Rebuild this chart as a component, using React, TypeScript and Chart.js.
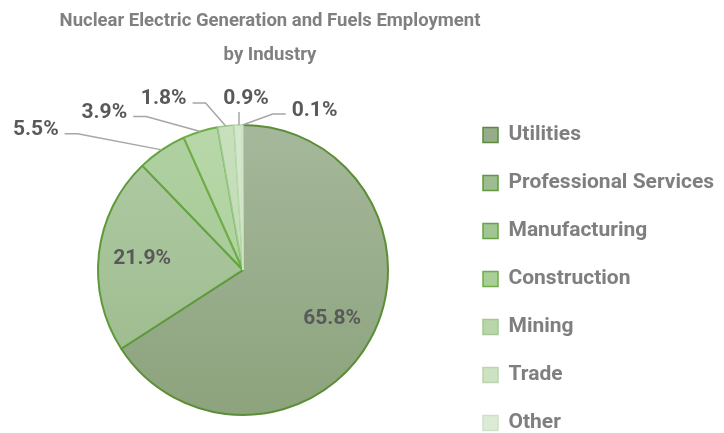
import React, { useEffect, useRef } from 'react';
import { Chart, registerables } from 'chart.js';

Chart.register(...registerables);

const titleLines = ['Nuclear Electric Generation and Fuels Employment', 'by Industry'];
const categories = ['Utilities', 'Professional Services', 'Manufacturing', 'Construction', 'Mining', 'Trade', 'Other'];
const shares = [65.8, 21.9, 5.5, 3.9, 1.8, 0.9, 0.1];

const sliceTop = ['#A5B89B', '#B0CBA4', '#B0D0A1', '#B7D7A8', '#C8E0BD', '#D5E7CD', '#E3EFDD'];
const sliceBottom = ['#8CA37D', '#9BB98C', '#A2C892', '#A9CF98', '#BCD9AF', '#CCE2C2', '#DAEAD3'];
const sliceBorder = ['#5B8E36', '#5E9A3A', '#64A540', '#6EAD47', '#9CC88B', '#B9D8AB', '#D0E5C7'];
const sliceBorderWidth = [2, 2, 2, 2, 1.5, 1.5, 1.5];
const legendFill = ['#97AC8B', '#9FBB92', '#A2C693', '#A9CE98', '#B9D6AB', '#CDE2C3', '#DDEAD6'];
const legendBorder = ['#5C8A3C', '#5E9A3A', '#64A540', '#6EAD47', '#A3C893', '#BAD6AC', '#CFE2C6'];

// label placement: inside = fraction of radius; otherwise offset of label centre from the arc's outer mid point
const labelPlacement: Array<{ inside?: number; dx?: number; dy?: number }> = [
  { inside: 0.7 },
  { inside: 0.7 },
  { dx: -126, dy: -20 },
  { dx: -96, dy: -19 },
  { dx: -62, dy: -27 },
  { dx: 8, dy: -26 },
  { dx: 72, dy: -14 },
];

const FONT = 'Roboto, "Noto Sans", sans-serif';

const titleShift = {
  id: 'titleShift',
  afterLayout(chart: any) {
    const t = chart.titleBlock;
    if (t) {
      t.left += 7;
      t.right += 47;
    }
  },
};

const pieLabels = {
  id: 'pieLabels',
  afterDatasetsDraw(chart: any) {
    const ctx = chart.ctx;
    const meta = chart.getDatasetMeta(0);
    ctx.save();
    ctx.font = `bold 21px ${FONT}`;
    ctx.textAlign = 'center';
    ctx.textBaseline = 'middle';
    meta.data.forEach((arc: any, i: number) => {
      const { x, y, startAngle, endAngle, outerRadius } = arc.getProps(
        ['x', 'y', 'startAngle', 'endAngle', 'outerRadius'],
        true
      );
      const mid = (startAngle + endAngle) / 2;
      const text = shares[i].toFixed(1) + '%';
      const p = labelPlacement[i];
      ctx.fillStyle = '#595959';
      if (p.inside) {
        ctx.fillText(text, x + Math.cos(mid) * outerRadius * p.inside, y + Math.sin(mid) * outerRadius * p.inside);
        return;
      }
      const ax = x + Math.cos(mid) * outerRadius;
      const ay = y + Math.sin(mid) * outerRadius;
      const lx = ax + (p.dx || 0);
      const ly = ay + (p.dy || 0);
      const w = ctx.measureText(text).width;
      ctx.strokeStyle = '#A6A6A6';
      ctx.lineWidth = 1.5;
      ctx.beginPath();
      if (Math.abs(p.dx || 0) < 20) {
        ctx.moveTo(ax + 1, ly + 13);
        ctx.lineTo(ax + 1, ay);
      } else if ((p.dx || 0) < 0) {
        const sx = lx + w / 2 + 6;
        ctx.moveTo(sx, ly + 4);
        ctx.lineTo(sx + 13, ly + 4);
        ctx.lineTo(ax, ay);
      } else {
        const sx = lx - w / 2 - 6;
        ctx.moveTo(sx, ly + 3);
        ctx.lineTo(sx - 13, ly + 3);
        ctx.lineTo(ax, ay);
      }
      ctx.stroke();
      ctx.fillText(text, lx, ly);
    });
    ctx.restore();
  },
};

export default function App() {
  const ref = useRef<HTMLCanvasElement | null>(null);

  useEffect(() => {
    document.body.style.margin = '0';
    if (!ref.current) return;
    const chart = new Chart(ref.current, {
      type: 'pie',
      data: {
        labels: categories,
        datasets: [
          {
            data: shares,
            radius: 145,
            backgroundColor: (c: any) => {
              const i = c.dataIndex;
              const area = c.chart.chartArea;
              if (!area || i === undefined) return sliceTop[i || 0];
              const cy = (area.top + area.bottom) / 2;
              const g = c.chart.ctx.createLinearGradient(0, cy - 145, 0, cy + 145);
              g.addColorStop(0, sliceTop[i]);
              g.addColorStop(1, sliceBottom[i]);
              return g;
            },
            borderColor: sliceBorder,
            borderWidth: sliceBorderWidth,
            hoverOffset: 0,
          } as any,
        ],
      },
      options: {
        animation: false,
        responsive: true,
        maintainAspectRatio: false,
        layout: { padding: { left: 30, right: 0, top: 0, bottom: -35 } },
        plugins: {
          tooltip: { enabled: false },
          title: {
            display: true,
            text: titleLines,
            fullSize: false,
            color: '#808080',
            font: { family: FONT, size: 18.5, weight: 'bold', lineHeight: 1.838 },
            padding: { top: 4, bottom: 35 },
          },
          legend: {
            display: true,
            position: 'right',
            align: 'start',
            maxWidth: 268,
            title: {
              display: true,
              text: '',
              font: { size: 10, lineHeight: 1 },
              padding: { top: 87.5, bottom: 0 },
            },
            labels: {
              boxWidth: 15,
              boxHeight: 15,
              padding: 27,
              color: '#7F7F7F',
              font: { family: FONT, size: 21, weight: 'bold' },
              generateLabels: () =>
                categories.map((c, i) => ({
                  text: c,
                  fillStyle: legendFill[i],
                  strokeStyle: legendBorder[i],
                  lineWidth: 1.5,
                  hidden: false,
                  index: i,
                  fontColor: '#7F7F7F',
                })),
            },
          },
        },
      } as any,
      plugins: [titleShift, pieLabels],
    });
    return () => chart.destroy();
  }, []);

  return (
    <div style={{ width: 724, height: 433, position: 'relative' }}>
      <canvas ref={ref} />
    </div>
  );
}
